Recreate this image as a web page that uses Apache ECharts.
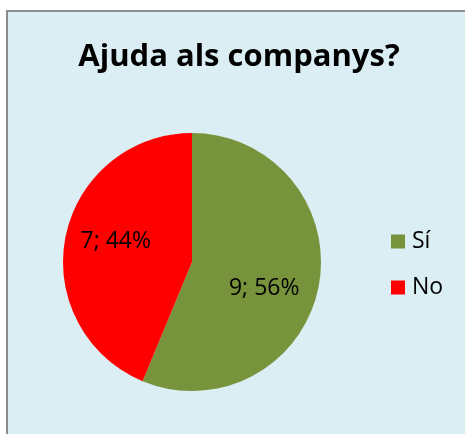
<!DOCTYPE html>
<html>
<head>
<meta charset="utf-8">
<script src="https://cdn.jsdelivr.net/npm/echarts@6/dist/echarts.min.js"></script>
<style>
  html, body { margin: 0; padding: 0; background: #fff; }
  #frame {
    position: absolute;
    left: 6px;
    top: 10px;
    width: 470px;
    height: 440px;
    border-left: 2px solid #8c8c8c;
    border-top: 2px solid #8c8c8c;
    background: #dbeef4;
  }
  #chart { position: absolute; left: 0; top: 0; width: 465px; height: 434px; }
</style>
</head>
<body>
<div id="frame"></div>
<div id="chart"></div>
<script>
const categories = ['Sí', 'No'];
const counts = [9, 7];
const colors = ['#77933c', '#ff0000'];

const dom = document.getElementById('chart');
const myChart = echarts.init(dom);

const option = {
  animation: false,
  title: {
    text: 'Ajuda als companys?',
    left: 234,
    top: 37,
    textAlign: 'center',
    textStyle: {
      fontFamily: 'Open Sans',
      fontWeight: 'bold',
      fontSize: 31,
      color: '#000',
    },
  },
  legend: {
    orient: 'vertical',
    left: 386,
    top: 225,
    itemWidth: 14,
    itemHeight: 14,
    itemGap: 23,
    icon: 'rect',
    data: categories,
    textStyle: {
      fontFamily: 'Open Sans',
      fontSize: 23,
      color: '#000',
      padding: [0, 0, 0, 2],
    },
  },
  series: [
    {
      type: 'pie',
      center: [192, 262],
      radius: 129,
      startAngle: 90,
      clockwise: true,
      avoidLabelOverlap: false,
      label: {
        show: true,
        position: 'inside',
        fontFamily: 'Open Sans',
        fontSize: 23,
        color: '#000',
        formatter: (p) => p.value + '; ' + Math.round(p.percent) + '%',
      },
      labelLine: { show: false },
      emphasis: { disabled: true },
      data: categories.map((name, i) => ({
        name: name,
        value: counts[i],
        itemStyle: { color: colors[i] },
        label: { offset: i === 0 ? [6, 13] : [-10, -7] },
      })),
    },
  ],
};

myChart.setOption(option);
</script>
</body>
</html>
